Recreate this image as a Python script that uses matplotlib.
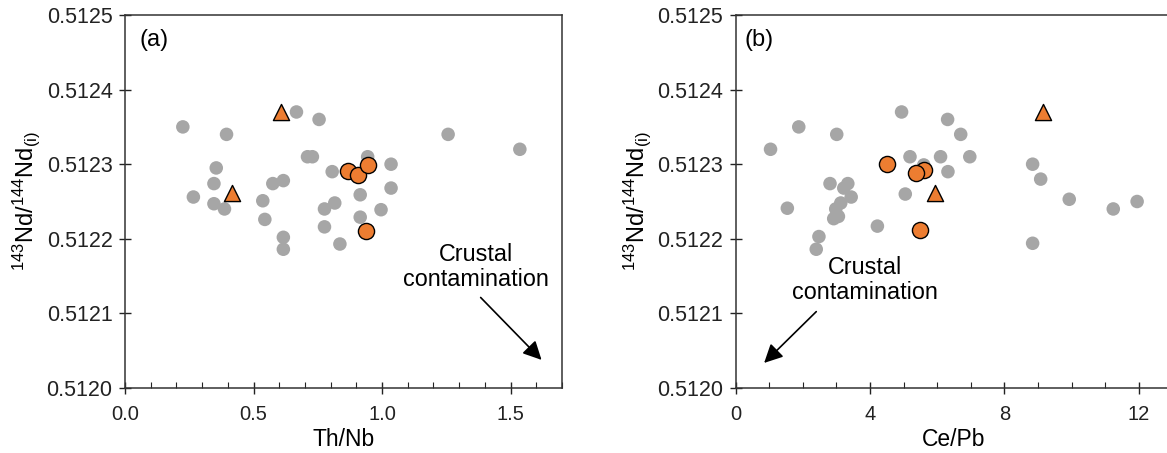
import matplotlib
matplotlib.use("Agg")
import matplotlib.pyplot as plt
from matplotlib.ticker import MultipleLocator, FormatStrFormatter

plt.rcParams['font.family'] = ['Liberation Sans', 'DejaVu Sans']
plt.rcParams['mathtext.fontset'] = 'custom'
plt.rcParams['mathtext.rm'] = 'Liberation Sans'

# Panel (a): Th/Nb vs 143Nd/144Nd(i)
gray_thnb = [0.225, 0.395, 0.667, 0.755, 1.257, 1.536, 0.355, 0.710, 0.729, 0.944,
             1.035, 0.806, 0.346, 0.575, 0.616, 1.035, 0.915, 0.266, 0.346, 0.387,
             0.536, 0.544, 0.616, 0.616, 0.776, 0.816, 0.776, 0.836, 0.915, 0.996]
gray_nd_a = [0.51235, 0.51234, 0.51237, 0.51236, 0.51234, 0.51232, 0.512295, 0.51231, 0.51231, 0.51231,
             0.51230, 0.51229, 0.512274, 0.512274, 0.512278, 0.512268, 0.512259, 0.512256, 0.512247, 0.51224,
             0.512251, 0.512226, 0.512202, 0.512186, 0.51224, 0.512248, 0.512216, 0.512193, 0.512229, 0.512239]
orange_thnb = [0.866, 0.906, 0.945, 0.9375]
orange_nd_a = [0.512291, 0.512286, 0.512299, 0.512211]
tri_thnb = [0.607, 0.417]
tri_nd_a = [0.51237, 0.512262]

# Panel (b): Ce/Pb vs 143Nd/144Nd(i)
gray_cepb = [1.04, 1.88, 3.01, 4.94, 6.31, 6.70, 5.19, 6.10, 6.97, 6.32,
             8.84, 9.08, 2.81, 3.34, 3.22, 5.05, 9.93, 11.95, 11.24, 8.84,
             3.44, 1.54, 3.13, 2.98, 3.06, 2.92, 4.22, 2.48, 2.40, 5.60]
gray_nd_b = [0.51232, 0.51235, 0.51234, 0.51237, 0.51236, 0.51234, 0.51231, 0.51231, 0.51231, 0.51229,
             0.51230, 0.51228, 0.512274, 0.512274, 0.512268, 0.51226, 0.512253, 0.51225, 0.51224, 0.512194,
             0.512256, 0.512241, 0.512248, 0.51224, 0.51223, 0.512227, 0.512217, 0.512203, 0.512186, 0.512299]
orange_cepb = [4.51, 5.60, 5.36, 5.49]
orange_nd_b = [0.51230, 0.512292, 0.512288, 0.512212]
tri_cepb = [9.16, 5.93]
tri_nd_b = [0.51237, 0.512261]

ylabel = r'$\mathregular{^{143}Nd/^{144}Nd_{(i)}}$'
gray_c = '#A6A6A6'
orange_c = '#ED7D31'

fig = plt.figure(figsize=(11.67, 4.53), dpi=100)
W, H = 1167, 453
axa = fig.add_axes([125 / W, (H - 388) / H, 437 / W, 373 / H])
axb = fig.add_axes([735.6 / W, (H - 388) / H, 436.8 / W, 373 / H])


def style(ax, xmax, major, minor, xlabel):
    ax.set_xlim(0, xmax)
    ax.set_ylim(0.5120, 0.5125)
    ax.yaxis.set_major_locator(MultipleLocator(0.0001))
    ax.yaxis.set_major_formatter(FormatStrFormatter('%.4f'))
    ax.xaxis.set_major_locator(MultipleLocator(major))
    ax.xaxis.set_minor_locator(MultipleLocator(minor))
    ax.tick_params(axis='both', which='major', direction='inout', length=8, width=1,
                   colors='#222222')
    ax.tick_params(axis='x', which='major', labelsize=14.5, pad=8)
    ax.tick_params(axis='y', which='major', labelsize=15.5, pad=5)
    ax.tick_params(axis='x', which='minor', direction='in', length=4, width=0.8, colors='#222222')
    for s in ax.spines.values():
        s.set_color('#333333')
        s.set_linewidth(1.1)
    ax.set_xlabel(xlabel, fontsize=16.5, labelpad=3)
    ax.set_ylabel(ylabel, fontsize=17, labelpad=3)


def points(ax, gx, gy, ox, oy, tx, ty):
    ax.scatter(gx, gy, s=95, color=gray_c, edgecolors='none', zorder=3)
    ax.scatter(ox, oy, s=135, color=orange_c, edgecolors='black', linewidths=1, zorder=4)
    ax.scatter(tx, ty, s=135, marker='^', color=orange_c, edgecolors='black', linewidths=1, zorder=4)


style(axa, 1.7, 0.5, 0.1, 'Th/Nb')
axa.xaxis.set_major_formatter(FormatStrFormatter('%.1f'))
points(axa, gray_thnb, gray_nd_a, orange_thnb, orange_nd_a, tri_thnb, tri_nd_a)
axa.text(0.033, 0.933, '(a)', transform=axa.transAxes, fontsize=17, va='center', ha='left')
axa.annotate('', xy=(1.628, 0.512035), xytext=(1.376, 0.512124),
             arrowprops=dict(arrowstyle='-|>', color='black', lw=1.2, mutation_scale=28))
axa.text(1.367, 0.512162, 'Crustal\ncontamination', fontsize=16.8, ha='center', va='center',
         linespacing=1.1)

style(axb, 13, 4, 1, 'Ce/Pb')
axb.xaxis.set_major_formatter(FormatStrFormatter('%d'))
axb.spines['right'].set_visible(False)
points(axb, gray_cepb, gray_nd_b, orange_cepb, orange_nd_b, tri_cepb, tri_nd_b)
axb.text(0.02, 0.933, '(b)', transform=axb.transAxes, fontsize=17, va='center', ha='left')
axb.annotate('', xy=(0.79, 0.512031), xytext=(2.46, 0.512105),
             arrowprops=dict(arrowstyle='-|>', color='black', lw=1.2, mutation_scale=28))
axb.text(3.85, 0.512145, 'Crustal\ncontamination', fontsize=16.8, ha='center', va='center',
         linespacing=1.1)

fig.savefig('out.png', dpi=100)
